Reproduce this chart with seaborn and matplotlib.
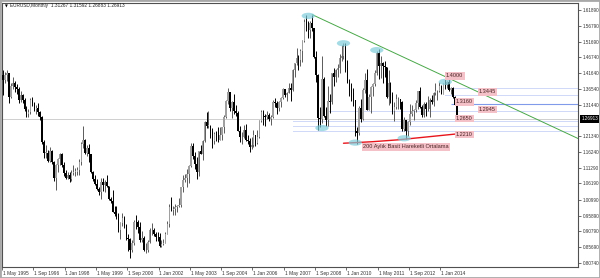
import numpy as np
import pandas as pd
import matplotlib
matplotlib.use("Agg")
import matplotlib.pyplot as plt
import matplotlib.transforms as mtransforms
from matplotlib.patches import Ellipse, Rectangle
import seaborn as sns

sns.set_style("white")
plt.rcParams['font.family'] = ['Liberation Sans', 'DejaVu Sans']

# ---------------- data ----------------
start_month = "1995-05"
first_open = 1.410

close = [
    1.395, 1.410, 1.415, 1.340, 1.375, 1.385, 1.370, 1.365,
    1.330, 1.345, 1.330, 1.300, 1.285, 1.290, 1.330, 1.320, 1.300, 1.305, 1.290, 1.275,
    1.195, 1.160, 1.160, 1.135, 1.165, 1.130, 1.080, 1.120, 1.140, 1.155, 1.120, 1.095,
    1.080, 1.090, 1.075, 1.095, 1.100, 1.100, 1.105, 1.130, 1.190, 1.200, 1.160, 1.175,
    1.156, 1.099, 1.077, 1.059, 1.043, 1.034, 1.068, 1.056, 1.068, 1.054, 1.011, 1.007,
    0.971, 0.964, 0.957, 0.911, 0.934, 0.952, 0.928, 0.888, 0.883, 0.849, 0.871, 0.939,
    0.937, 0.921, 0.879, 0.887, 0.847, 0.849, 0.875, 0.912, 0.913, 0.900, 0.891, 0.890,
    0.860, 0.869, 0.872, 0.901, 0.933, 0.987, 0.978, 0.980, 0.987, 0.988, 0.993, 1.049,
    1.073, 1.078, 1.091, 1.117, 1.181, 1.149, 1.124, 1.099, 1.165, 1.158, 1.198, 1.259,
    1.247, 1.247, 1.229, 1.198, 1.220, 1.216, 1.202, 1.217, 1.242, 1.276, 1.327, 1.356,
    1.303, 1.325, 1.296, 1.287, 1.230, 1.210, 1.212, 1.234, 1.202, 1.198, 1.179, 1.184,
    1.216, 1.192, 1.212, 1.263, 1.291, 1.279, 1.276, 1.281, 1.268, 1.275, 1.325, 1.320,
    1.303, 1.323, 1.335, 1.365, 1.345, 1.353, 1.368, 1.363, 1.426, 1.449, 1.464, 1.459,
    1.486, 1.518, 1.579, 1.562, 1.555, 1.576, 1.561, 1.467, 1.410, 1.272, 1.270, 1.397,
    1.280, 1.267, 1.327, 1.323, 1.415, 1.404, 1.425, 1.433, 1.464, 1.472, 1.500, 1.433,
    1.386, 1.363, 1.351, 1.329, 1.229, 1.224, 1.305, 1.268, 1.363, 1.394, 1.299, 1.338,
    1.370, 1.381, 1.416, 1.481, 1.439, 1.450, 1.439, 1.437, 1.339, 1.386, 1.345, 1.296,
    1.308, 1.332, 1.334, 1.324, 1.237, 1.266, 1.230, 1.258, 1.286, 1.295, 1.299, 1.319,
    1.358, 1.306, 1.282, 1.317, 1.300, 1.301, 1.330, 1.322, 1.353, 1.358, 1.359, 1.374,
    1.348, 1.380, 1.377, 1.387, 1.363, 1.369, 1.339, 1.31267, 1.26913,
]
high = [
    1.425, 1.420, 1.425, 1.415, 1.385, 1.405, 1.390, 1.380,
    1.370, 1.360, 1.350, 1.335, 1.310, 1.300, 1.335, 1.340, 1.325, 1.315, 1.320, 1.295,
    1.280, 1.200, 1.185, 1.170, 1.180, 1.170, 1.135, 1.125, 1.145, 1.160, 1.160, 1.130,
    1.105, 1.100, 1.100, 1.105, 1.120, 1.110, 1.115, 1.140, 1.195, 1.245, 1.205, 1.185,
    1.190, 1.156, 1.103, 1.088, 1.076, 1.049, 1.078, 1.080, 1.072, 1.088, 1.055, 1.019,
    1.041, 0.990, 0.989, 0.966, 0.938, 0.968, 0.956, 0.932, 0.901, 0.886, 0.879, 0.945,
    0.960, 0.944, 0.937, 0.910, 0.894, 0.871, 0.880, 0.920, 0.934, 0.920, 0.907, 0.905,
    0.903, 0.879, 0.884, 0.905, 0.940, 0.996, 1.019, 0.990, 0.995, 0.992, 1.015, 1.050,
    1.088, 1.093, 1.108, 1.122, 1.193, 1.193, 1.164, 1.146, 1.167, 1.184, 1.200, 1.264,
    1.290, 1.293, 1.248, 1.239, 1.227, 1.230, 1.244, 1.243, 1.243, 1.281, 1.330, 1.367,
    1.356, 1.328, 1.348, 1.314, 1.296, 1.247, 1.227, 1.248, 1.252, 1.216, 1.208, 1.211,
    1.232, 1.214, 1.233, 1.265, 1.298, 1.297, 1.284, 1.293, 1.289, 1.281, 1.329, 1.337,
    1.328, 1.327, 1.338, 1.368, 1.366, 1.354, 1.385, 1.385, 1.428, 1.450, 1.497, 1.475,
    1.492, 1.524, 1.590, 1.602, 1.582, 1.584, 1.604, 1.562, 1.487, 1.412, 1.308, 1.472,
    1.405, 1.307, 1.374, 1.348, 1.417, 1.434, 1.430, 1.445, 1.478, 1.506, 1.514, 1.514,
    1.458, 1.396, 1.383, 1.369, 1.328, 1.242, 1.311, 1.333, 1.369, 1.416, 1.428, 1.350,
    1.376, 1.386, 1.425, 1.488, 1.494, 1.470, 1.453, 1.455, 1.428, 1.425, 1.388, 1.355,
    1.323, 1.349, 1.339, 1.328, 1.328, 1.275, 1.267, 1.264, 1.317, 1.314, 1.301, 1.331,
    1.360, 1.371, 1.315, 1.324, 1.324, 1.342, 1.335, 1.345, 1.357, 1.383, 1.362, 1.389,
    1.377, 1.383, 1.397, 1.391, 1.399, 1.370, 1.370, 1.344, 1.31592,
]
low = [
    1.345, 1.385, 1.390, 1.320, 1.335, 1.365, 1.355, 1.350,
    1.320, 1.325, 1.320, 1.295, 1.275, 1.275, 1.285, 1.310, 1.295, 1.285, 1.280, 1.265,
    1.190, 1.145, 1.145, 1.130, 1.130, 1.125, 1.070, 1.040, 1.100, 1.120, 1.115, 1.085,
    1.075, 1.075, 1.065, 1.070, 1.090, 1.085, 1.090, 1.090, 1.120, 1.175, 1.155, 1.150,
    1.132, 1.097, 1.070, 1.056, 1.042, 1.024, 1.011, 1.038, 1.033, 1.050, 1.009, 1.000,
    0.969, 0.958, 0.949, 0.905, 0.884, 0.926, 0.919, 0.881, 0.846, 0.823, 0.841, 0.865,
    0.915, 0.903, 0.874, 0.875, 0.844, 0.837, 0.841, 0.870, 0.896, 0.894, 0.877, 0.876,
    0.857, 0.857, 0.864, 0.870, 0.899, 0.922, 0.974, 0.962, 0.961, 0.969, 0.986, 0.986,
    1.034, 1.065, 1.050, 1.062, 1.115, 1.141, 1.109, 1.076, 1.085, 1.156, 1.137, 1.196,
    1.241, 1.239, 1.208, 1.176, 1.190, 1.199, 1.196, 1.201, 1.200, 1.225, 1.271, 1.317,
    1.295, 1.273, 1.286, 1.279, 1.229, 1.195, 1.187, 1.208, 1.199, 1.190, 1.164, 1.171,
    1.180, 1.183, 1.187, 1.207, 1.258, 1.248, 1.245, 1.268, 1.264, 1.248, 1.273, 1.307,
    1.286, 1.293, 1.307, 1.334, 1.341, 1.326, 1.351, 1.326, 1.358, 1.405, 1.442, 1.425,
    1.440, 1.451, 1.515, 1.552, 1.530, 1.530, 1.550, 1.466, 1.388, 1.233, 1.242, 1.256,
    1.274, 1.246, 1.245, 1.289, 1.318, 1.375, 1.387, 1.405, 1.416, 1.456, 1.462, 1.421,
    1.386, 1.344, 1.327, 1.312, 1.214, 1.188, 1.216, 1.259, 1.265, 1.353, 1.297, 1.297,
    1.287, 1.343, 1.374, 1.410, 1.397, 1.400, 1.384, 1.405, 1.337, 1.314, 1.321, 1.286,
    1.262, 1.300, 1.300, 1.300, 1.229, 1.229, 1.204, 1.213, 1.250, 1.280, 1.266, 1.292,
    1.300, 1.303, 1.275, 1.274, 1.279, 1.296, 1.275, 1.316, 1.311, 1.347, 1.329, 1.354,
    1.348, 1.348, 1.364, 1.367, 1.359, 1.350, 1.337, 1.313, 1.26883,
]

title_text = "EURUSD,Monthly  1.31267 1.31592 1.26883 1.26913"
last_price = 1.26913
y_ticks = [1.61890, 1.56790, 1.51690, 1.46740, 1.41640, 1.36540, 1.31440,
           1.21340, 1.16240, 1.11290, 1.06190, 1.00990, 0.95890, 0.90790,
           0.85690, 0.80740]
x_tick_every = 16

ma_months = ["2009-11", "2011-02", "2012-03", "2014-09"]
ma_values = [1.191, 1.196, 1.202, 1.221]
ma_label = "200 Aylık Basit Hareketli Ortalama"

trend_months = ["2008-07", "2014-05"]
trend_values = [1.6040, 1.3990]

dotted_levels = [1.3670, 1.3445, 1.2945, 1.2610, 1.2455, 1.2300]
dotted_starts = ["2014-04", "2014-03", "2009-02", "2007-09", "2007-09", "2007-09"]
solid_level = 1.3160
solid_start = "2014-06"

ellipse_months = ["2008-05", "2009-11", "2011-04", "2014-03", "2008-12", "2010-05", "2012-06"]
ellipse_values = [1.600, 1.512, 1.490, 1.388, 1.240, 1.193, 1.207]

level_labels = ["1.4000", "1.3445", "1.3160", "1.2945", "1.2650", "1.2210"]

# ---------------- derived ----------------
n = len(close)
periods = pd.period_range(start_month, periods=n, freq="M")
op = np.array([first_open] + close[:-1])
cl = np.array(close)
hi = np.maximum.reduce([np.array(high), op, cl])
lo = np.minimum.reduce([np.array(low), op, cl])
idx = np.arange(n)

def midx(s):
    return (pd.Period(s, freq="M") - periods[0]).n

# pixel geometry
W, H = 600, 278
ax_l, ax_r, ax_t, ax_b = 2, 578, 3, 267
px_per_month = 1.957
x_min = -0.5
x_max = x_min + (ax_r - ax_l) / px_per_month
y_min, y_max = 0.7936, 1.6413

fig = plt.figure(figsize=(W / 100, H / 100), dpi=100)
ax = fig.add_axes([ax_l / W, (H - ax_b) / H, (ax_r - ax_l) / W, (ax_b - ax_t) / H])
ax.set_xlim(x_min, x_max)
ax.set_ylim(y_min, y_max)
ax.set_facecolor("white")

# candles
bull = cl >= op
wick_col = np.where(bull, "#5a5a5a", "#000000")
body_col = np.where(bull, "#a0a0a0", "#000000")
ax.vlines(idx, lo, hi, colors=wick_col, linewidth=0.7, zorder=3)
body_bottom = np.minimum(op, cl)
body_h = np.maximum(np.abs(cl - op), 0.0015)
ax.bar(idx, body_h, bottom=body_bottom, width=0.75, color=body_col,
       linewidth=0, zorder=4)

# current price line
ax.axhline(last_price, color="#c8c8c8", lw=0.6, zorder=1)

# horizontal levels
for lv, st in zip(dotted_levels, dotted_starts):
    ax.hlines(lv, midx(st), x_max, colors="#8fa5ec", lw=0.6,
              linestyles=(0, (1.2, 1.2)), zorder=2)
ax.hlines(solid_level, midx(solid_start), x_max, colors="#7f9bea", lw=0.8, zorder=2)

# trend line (extended to the right edge)
tx = [midx(m) for m in trend_months]
slope = (trend_values[1] - trend_values[0]) / (tx[1] - tx[0])
trend_df = pd.DataFrame({"x": [tx[0], x_max],
                         "y": [trend_values[0], trend_values[0] + slope * (x_max - tx[0])]})
sns.lineplot(data=trend_df, x="x", y="y", ax=ax, color="#4aa84a", lw=0.7, zorder=5)

# moving average
ma_df = pd.DataFrame({"x": [midx(m) for m in ma_months], "y": ma_values})
sns.lineplot(data=ma_df, x="x", y="y", ax=ax, color="#e8141c", lw=1.0, zorder=5)

# ellipses
for m, v in zip(ellipse_months, ellipse_values):
    ax.add_patch(Ellipse((midx(m), v), width=6.8, height=0.020,
                         facecolor="#7fcdda", edgecolor="none", alpha=0.7, zorder=6))

# labels
label_pos = [(226.4, 1.4073), (243.2, 1.3560), (231.5, 1.3240),
             (243.2, 1.3000), (231.5, 1.2711), (231.5, 1.2183)]
box = dict(boxstyle="square,pad=0.22", facecolor="#f5c1c8", edgecolor="none")
for s, (xm, yv) in zip(level_labels, label_pos):
    ax.text(xm, yv, s, fontsize=4.0, color="#4a2626", ha="left", va="center",
            bbox=box, zorder=7)
ax.text(184.0, 1.1790, ma_label, fontsize=4.1, color="#4a2626", ha="left",
        va="center", bbox=box, zorder=7)

# axes styling
for sp in ax.spines.values():
    sp.set_color("#505050")
    sp.set_linewidth(0.8)
ax.yaxis.tick_right()
ax.set_yticks(y_ticks)
ax.set_yticklabels([f"{v:.5f}" for v in y_ticks])
ax.tick_params(axis="y", which="major", direction="out", length=1.8, width=0.5,
               pad=1.5, labelsize=3.3, colors="#333333", right=True, left=False)
xt = np.arange(0, n, x_tick_every)
ax.set_xticks(xt - 0.5)
ax.set_xticklabels([])
ax.tick_params(axis="x", which="major", direction="out", length=2.2, width=0.5,
               colors="#333333", bottom=True)
ax.set_xlabel("")
ax.set_ylabel("")
trans = mtransforms.blended_transform_factory(ax.transData, ax.transAxes)
for m in xt:
    p = periods[m]
    ax.text(m - 0.1, -0.024, f"1 {p.strftime('%b')} {p.year}", transform=trans,
            fontsize=3.5, color="#333333", ha="left", va="center", clip_on=False)

# current price tag
trans_y = mtransforms.blended_transform_factory(ax.transAxes, ax.transData)
ax.text(1.006, last_price, f"{last_price:.5f}", transform=trans_y, fontsize=3.3,
        color="white", ha="left", va="center", clip_on=False,
        bbox=dict(boxstyle="square,pad=0.25", facecolor="black", edgecolor="none"),
        zorder=8)

# title
fig.text(5 / W, 1 - 6 / H, "▼", fontsize=2.6, family="DejaVu Sans",
         color="#000000", ha="left", va="center")
fig.text(10 / W, 1 - 6 / H, title_text, fontsize=3.4, color="#222222",
         ha="left", va="center")

# window frame
fig.patches.append(Rectangle((0, 0), 1, 1, transform=fig.transFigure, fill=False,
                             edgecolor="#a8a8a8", lw=2.0))

fig.savefig("out.png", dpi=100)
